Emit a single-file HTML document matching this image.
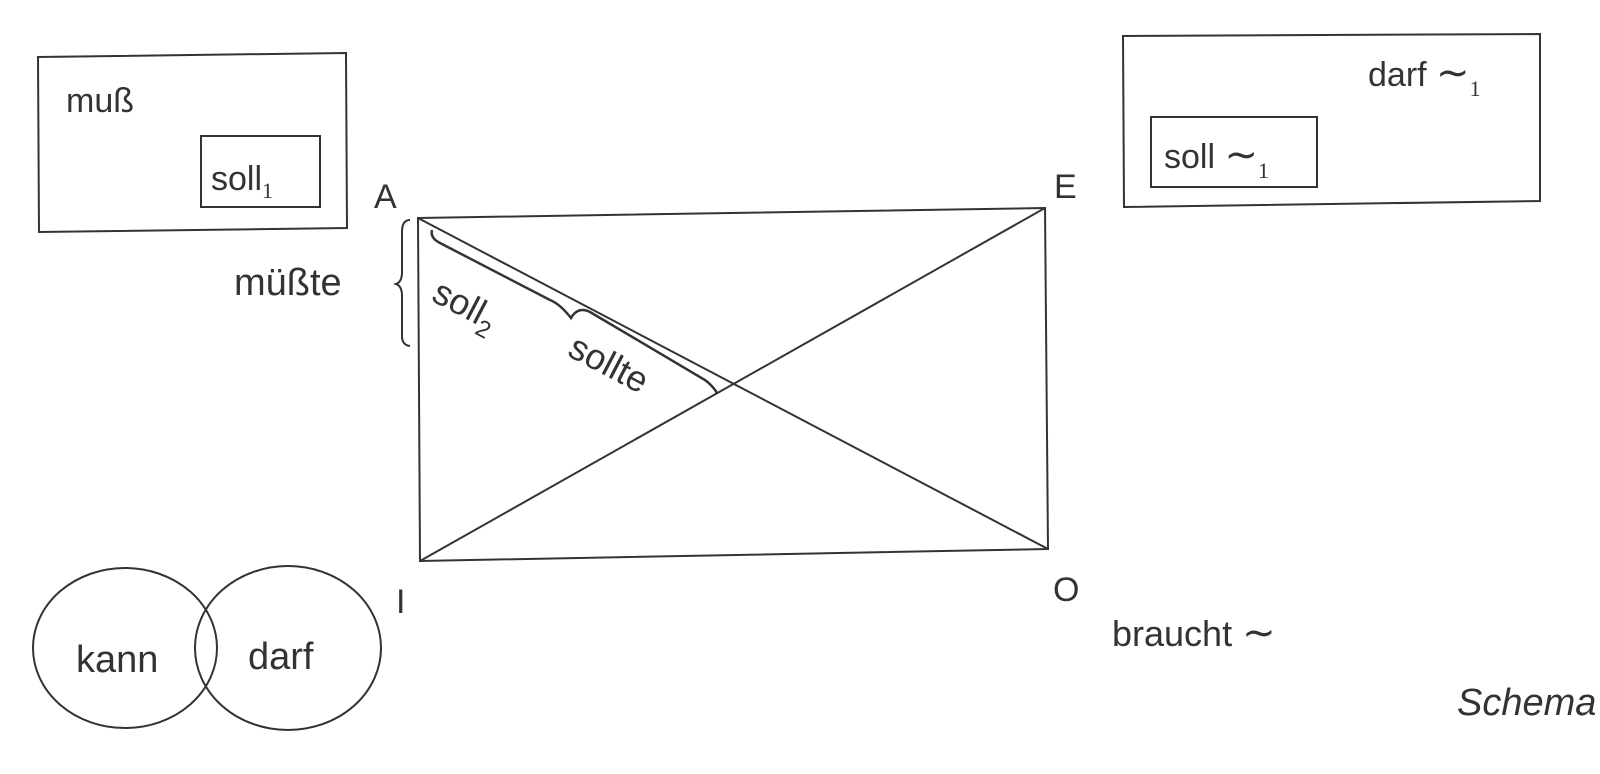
<!DOCTYPE html>
<html><head><meta charset="utf-8"><style>
html,body{margin:0;padding:0;background:#fff;}
svg{display:block}
text{font-family:"Liberation Sans",sans-serif;fill:#333;}
</style></head><body>
<svg width="1600" height="774" viewBox="0 0 1600 774" xmlns="http://www.w3.org/2000/svg">
<g fill="none" stroke="#333" stroke-width="2">
<polygon points="38,57 346,53 347,228 39,232"/>
<rect x="201" y="136" width="119" height="71"/>
<polygon points="1123,36 1540,34 1540,201 1124,207"/>
<rect x="1151" y="117" width="166" height="70"/>
<polygon points="418,218 1045,208 1048,549 420,561"/>
<line x1="418" y1="218" x2="1048" y2="549"/>
<line x1="420" y1="561" x2="1045" y2="208"/>
<ellipse cx="125" cy="648" rx="92" ry="80"/>
<ellipse cx="288" cy="648" rx="93" ry="82"/>
<path d="M410,220 Q402,220 402,232 L402,272 Q402,282 396,284 Q402,286 402,296 L402,336 Q402,345 410,346"/>
<path d="M432,230 Q430,238 440,243 L550,300 Q560,304 571,318 Q578,306 590,312 L705,380 Q713,386 717,393" stroke-width="2.5"/>
</g>
<text x="66" y="112" font-size="34">muß</text>
<text x="211" y="190" font-size="34">soll<tspan font-family="Liberation Serif" font-size="22" dy="8">1</tspan></text>
<text x="1368" y="86" font-size="34">darf <tspan font-family="Liberation Serif" font-size="40">∼</tspan><tspan font-family="Liberation Serif" font-size="22" dy="10">1</tspan></text>
<text x="1164" y="168" font-size="34">soll <tspan font-family="Liberation Serif" font-size="40">∼</tspan><tspan font-family="Liberation Serif" font-size="22" dy="10">1</tspan></text>
<text x="374" y="208" font-size="34">A</text>
<text x="1054" y="198" font-size="34">E</text>
<text x="396" y="613" font-size="34">I</text>
<text x="1053" y="601" font-size="34">O</text>
<text x="234" y="295" font-size="38">müßte</text>
<text x="0" y="0" font-size="36" transform="translate(430,300) rotate(27.7)">soll<tspan font-size="24" dy="9">2</tspan></text>
<text x="0" y="0" font-size="36" transform="translate(566,355) rotate(27.7)">sollte</text>
<text x="76" y="672" font-size="38">kann</text>
<text x="248" y="669" font-size="38">darf</text>
<text x="1112" y="646" font-size="36">braucht <tspan font-family="Liberation Serif" font-size="40">∼</tspan></text>
<text x="1457" y="715" font-size="38" font-style="italic">Schema</text>
</svg>
</body></html>
